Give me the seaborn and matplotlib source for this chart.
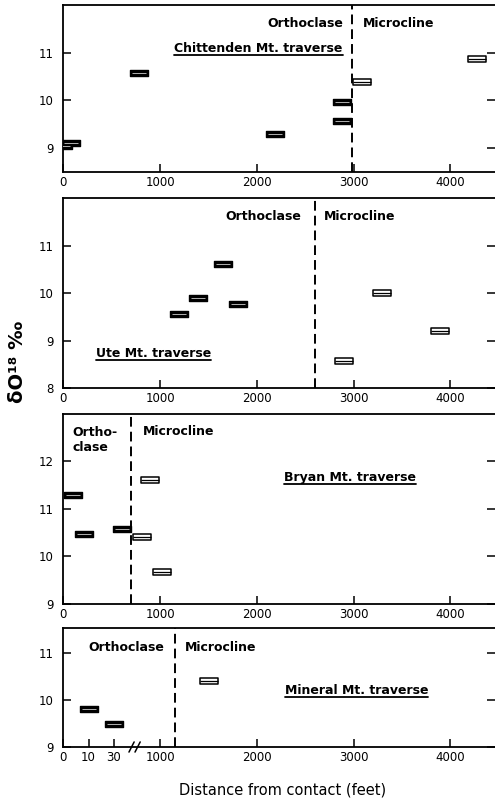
import numpy as np
import pandas as pd
import matplotlib
matplotlib.use("Agg")
import matplotlib.pyplot as plt
from matplotlib.lines import Line2D
from matplotlib.path import Path
import seaborn as sns

# ---------------- data ----------------
chit_orth_x = [0, 80, 780, 2190, 2880, 2880]
chit_orth_y = [9.05, 9.11, 10.57, 9.29, 9.96, 9.57]
chit_micro_x = [3090, 4270]
chit_micro_y = [10.38, 10.86]
chit_boundary = 2980

ute_orth_x = [1190, 1395, 1645, 1800]
ute_orth_y = [9.57, 9.91, 10.62, 9.78]
ute_micro_x = [2895, 3290, 3895]
ute_micro_y = [8.57, 10.01, 9.20]
ute_boundary = 2600

bryan_orth_x = [95, 215, 605]
bryan_orth_y = [11.30, 10.48, 10.58]
bryan_micro_x = [810, 895, 1015]
bryan_micro_y = [10.42, 11.61, 9.68]
bryan_boundary = 700

mineral_orth_x = [10, 30]
mineral_orth_y = [9.80, 9.49]
mineral_micro_x = [1500]
mineral_micro_y = [10.40]
mineral_boundary = 1150

x_ticks = [0, 1000, 2000, 3000, 4000]
mineral_x_ticks = [0, 10, 30, 1000, 2000, 3000, 4000]
# broken axis (Mineral Mt.): feet -> axis position
break_feet = [0, 10, 30, 1000, 6000]
break_pos = [0, 260, 520, 1000, 6000]

panels = [
    dict(name="Chittenden Mt. traverse", ox=chit_orth_x, oy=chit_orth_y,
         mx=chit_micro_x, my=chit_micro_y, b=chit_boundary,
         ylim=(8.5, 12), yticks=[9, 10, 11],
         orth=("Orthoclase", 2888, 11.61, "right"), micro=(3091, 11.61),
         title=(2888, 11.08, "right")),
    dict(name="Ute Mt. traverse", ox=ute_orth_x, oy=ute_orth_y,
         mx=ute_micro_x, my=ute_micro_y, b=ute_boundary,
         ylim=(8, 12), yticks=[8, 9, 10, 11],
         orth=("Orthoclase", 2462, 11.62, "right"), micro=(2692, 11.62),
         title=(335, 8.73, "left")),
    dict(name="Bryan Mt. traverse", ox=bryan_orth_x, oy=bryan_orth_y,
         mx=bryan_micro_x, my=bryan_micro_y, b=bryan_boundary,
         ylim=(9, 13), yticks=[9, 10, 11, 12],
         orth=("Ortho-\nclase", 97, 12.45, "left"), micro=(820, 12.63),
         title=(2282, 11.67, "left")),
    dict(name="Mineral Mt. traverse", ox=mineral_orth_x, oy=mineral_orth_y,
         mx=mineral_micro_x, my=mineral_micro_y, b=mineral_boundary,
         ylim=(9, 11.52), yticks=[9, 10, 11],
         orth=("Orthoclase", 1041, 11.11, "right"), micro=(1257, 11.11),
         title=(2289, 10.19, "left")),
]

# ---------------- style ----------------
sns.set_theme(style="ticks")
plt.rcParams["font.family"] = ["DejaVu Sans"]
plt.rcParams["text.color"] = "black"
plt.rcParams["xtick.color"] = "black"
plt.rcParams["ytick.color"] = "black"
plt.rcParams["axes.labelcolor"] = "black"

fig = plt.figure(figsize=(4.95, 8.02), dpi=100)
rects = [
    (0.128, 0.7852, 0.872, 0.2089),
    (0.128, 0.5158, 0.872, 0.2369),
    (0.128, 0.2469, 0.872, 0.2369),
    (0.128, 0.0682, 0.872, 0.1488),
]

box = Path([(-1, -0.36), (1, -0.36), (1, 0.36), (-1, 0.36), (-1, -0.36)],
           [Path.MOVETO, Path.LINETO, Path.LINETO, Path.LINETO, Path.CLOSEPOLY])

title_texts = []
axes = []
for i, (p, r) in enumerate(zip(panels, rects)):
    ax = fig.add_axes(r)
    axes.append(ax)
    if i == 3:
        fwd = lambda v: np.interp(v, break_feet, break_pos)
        inv = lambda v: np.interp(v, break_pos, break_feet)
        ax.set_xscale("function", functions=(fwd, inv))
    df_o = pd.DataFrame({"x": p["ox"], "y": p["oy"]})
    df_m = pd.DataFrame({"x": p["mx"], "y": p["my"]})
    sns.scatterplot(data=df_o, x="x", y="y", marker=box, s=180, color="black",
                    edgecolor="black", linewidth=1.0, ax=ax, zorder=3)
    sns.scatterplot(data=df_o, x="x", y="y", marker="_", s=90, color="0.8",
                    linewidth=0.6, ax=ax, zorder=4)
    sns.scatterplot(data=df_m, x="x", y="y", marker=box, s=180, color="white",
                    edgecolor="black", linewidth=1.1, ax=ax, zorder=3)
    sns.scatterplot(data=df_m, x="x", y="y", marker="_", s=170, color="black",
                    linewidth=0.9, ax=ax, zorder=4)
    ax.axvline(p["b"], color="black", lw=1.4, dashes=(5, 2.6), zorder=2)

    ax.set_xlim(0, 4460)
    ax.set_ylim(*p["ylim"])
    ax.set_yticks(p["yticks"])
    ax.set_yticklabels([str(t) for t in p["yticks"]])
    if i == 3:
        ax.set_xticks(mineral_x_ticks)
        ax.set_xticklabels([str(t) for t in mineral_x_ticks])
    else:
        ax.set_xticks(x_ticks)
        ax.set_xticklabels([str(t) for t in x_ticks])
    ax.set_xlabel("")
    ax.set_ylabel("")
    for s in ["left", "bottom", "top"]:
        ax.spines[s].set_linewidth(1.3)
        ax.spines[s].set_color("black")
    ax.spines["right"].set_visible(False)
    ax.tick_params(axis="both", direction="in", length=6, width=1.1,
                   colors="black", labelsize=8.5)
    ax.tick_params(axis="y", right=True, left=True, labelright=False, pad=7)
    ax.tick_params(axis="x", top=False, bottom=True, pad=3)

    lab, ox_, oy_, oha = p["orth"]
    ax.text(ox_, oy_, lab, ha=oha, va="center", fontsize=9, fontweight="bold",
            linespacing=1.15, color="black")
    ax.text(p["micro"][0], p["micro"][1], "Microcline", ha="left", va="center",
            fontsize=9, fontweight="bold", color="black")
    tx, ty, tha = p["title"]
    t = ax.text(tx, ty, p["name"], ha=tha, va="center", fontsize=9,
                fontweight="bold", color="black")
    title_texts.append(t)

# break marks on Mineral Mt. axis
axm = axes[3]
for dx in (0.0, 0.014):
    axm.add_line(Line2D([0.152 + dx, 0.164 + dx], [-0.04, 0.045],
                        transform=axm.transAxes, color="black", lw=1.1,
                        clip_on=False))

fig.text(0.036, 0.549, "δO¹⁸ ‰", rotation=90, ha="center", va="center",
         fontsize=14, fontweight="bold", color="black")
fig.text(0.57, 0.015, "Distance from contact (feet)", ha="center",
         va="center", fontsize=10.5, color="black")

# underline the traverse names
fig.canvas.draw()
renderer = fig.canvas.get_renderer()
for t in title_texts:
    bb = t.get_window_extent(renderer).transformed(fig.transFigure.inverted())
    fig.add_artist(Line2D([bb.x0, bb.x1], [bb.y0, bb.y0],
                          transform=fig.transFigure, color="black", lw=1.3))

fig.savefig("out.png", dpi=100)
